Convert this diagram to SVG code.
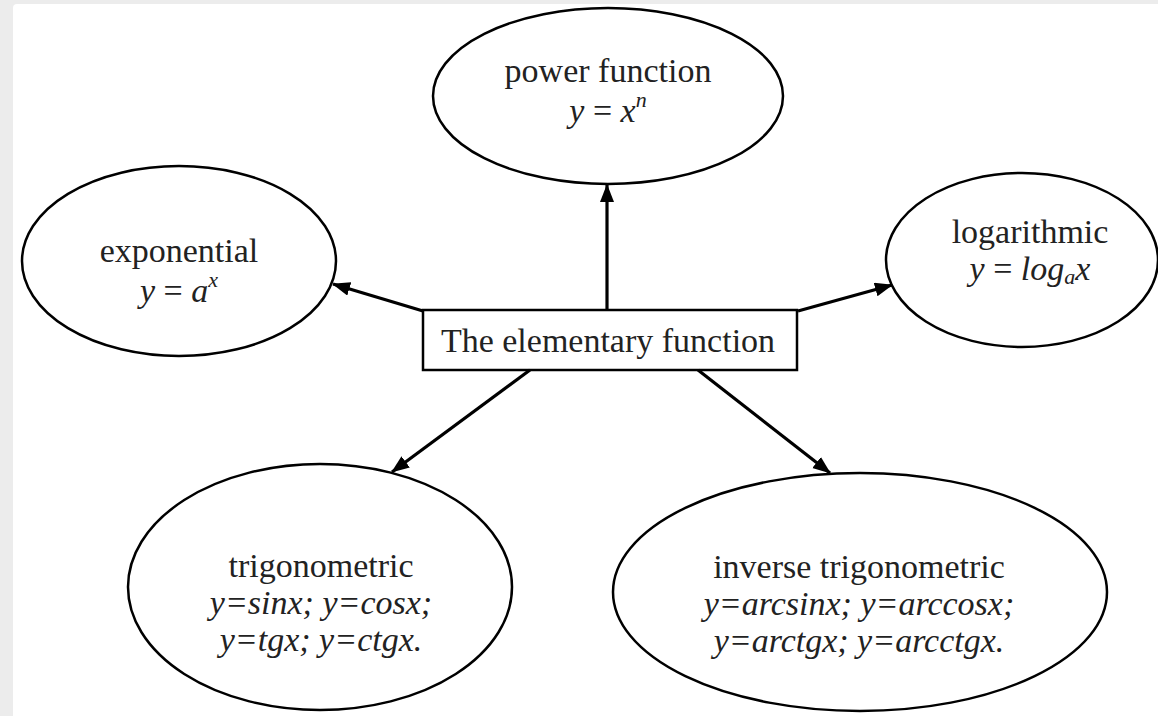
<svg xmlns="http://www.w3.org/2000/svg" width="1158" height="716" viewBox="0 0 1158 716">
<defs>
<style>
.node{fill:#fff;stroke:#000;stroke-width:2.5}
.t{font-family:"Liberation Serif","Times New Roman",serif;font-size:34px;fill:#222;text-anchor:middle}
.i{font-style:italic}
.sup{font-size:22px}
.conn line{stroke:#000;stroke-width:3.2;marker-end:url(#ah)}
</style>
<marker id="ah" markerUnits="userSpaceOnUse" markerWidth="19" markerHeight="15" refX="17" refY="7" orient="auto">
<path d="M0,0 L18,7 L0,14 z" fill="#000"/>
</marker>
</defs>
<rect x="0" y="0" width="1158" height="716" fill="#ececec"/>
<rect x="13" y="4" width="1150" height="720" rx="4" fill="#fff"/>

<g id="power">
<ellipse class="node" cx="608" cy="96" rx="175" ry="88"/>
<text class="t" x="608" y="82">power function</text>
<text class="t" x="608" y="122"><tspan class="i">y</tspan> = <tspan class="i">x</tspan><tspan class="i sup" dy="-15">n</tspan></text>
</g>

<g id="exponential">
<ellipse class="node" cx="179" cy="261" rx="157" ry="95"/>
<text class="t" x="179" y="262">exponential</text>
<text class="t" x="179" y="302"><tspan class="i">y</tspan> = <tspan class="i">a</tspan><tspan class="i sup" dy="-15">x</tspan></text>
</g>

<g id="logarithmic">
<ellipse class="node" cx="1022" cy="260" rx="136" ry="87"/>
<text class="t" x="1030" y="243">logarithmic</text>
<text class="t" x="1030" y="280"><tspan class="i">y</tspan> = <tspan class="i">log</tspan><tspan class="i sup" dy="4">a</tspan><tspan class="i" dy="-4">x</tspan></text>
</g>

<g id="elementary">
<rect class="node" x="423" y="310" width="374" height="60"/>
<text class="t" x="608" y="352">The elementary function</text>
</g>

<g id="trigonometric">
<ellipse class="node" cx="320" cy="587" rx="192" ry="123"/>
<text class="t" x="321" y="577">trigonometric</text>
<text class="t i" x="321" y="614">y=sinx; y=cosx;</text>
<text class="t i" x="321" y="651">y=tgx; y=ctgx.</text>
</g>

<g id="inverse">
<ellipse class="node" cx="860" cy="592" rx="247" ry="119"/>
<text class="t" x="859" y="578">inverse trigonometric</text>
<text class="t i" x="859" y="615">y=arcsinx; y=arccosx;</text>
<text class="t i" x="859" y="652">y=arctgx; y=arcctgx.</text>
</g>

<g class="conn" id="connectors">
<line x1="607" y1="310" x2="607" y2="185"/>
<line x1="423" y1="311" x2="333" y2="284"/>
<line x1="798" y1="311" x2="892" y2="285"/>
<line x1="530" y1="370" x2="392" y2="472"/>
<line x1="698" y1="370" x2="830" y2="473"/>
</g>
</svg>
